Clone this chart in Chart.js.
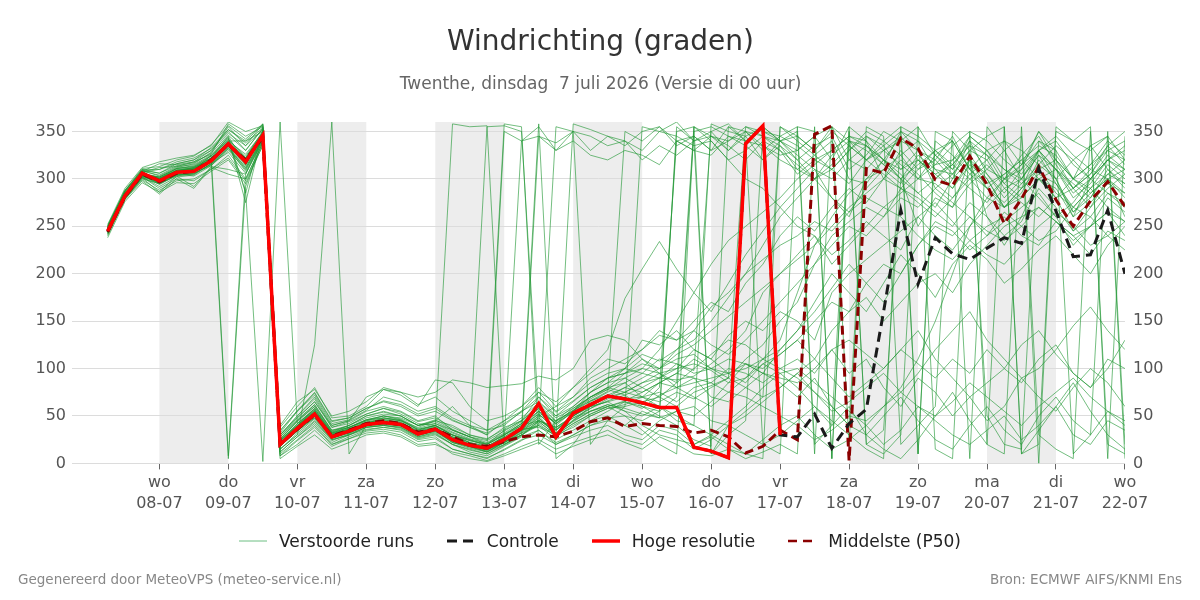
<!DOCTYPE html>
<html>
<head>
<meta charset="utf-8">
<script src="https://cdn.jsdelivr.net/npm/chart.js@4.4.1/dist/chart.umd.min.js"></script>
<style>
  body { margin: 0; background: #fff; font-family: 'DejaVu Sans', sans-serif; }
  #wrap { position: relative; width: 1200px; height: 600px; }
  #legend { position: absolute; top: 530px; left: 0; width: 1200px; display: flex; justify-content: center; gap: 33px; font-size: 17px; color: #222; line-height: 22px; }
  .item { display: flex; align-items: center; }
  .item svg { margin-right: 12px; }
  .foot { position: absolute; top: 571px; font-size: 13.5px; color: #888; }
</style>
</head>
<body>
<div id="wrap">
  <canvas id="myChart" width="1200" height="600"></canvas>
  <div id="legend"></div>
  <div class="foot" style="left:18px">Gegenereerd door MeteoVPS (meteo-service.nl)</div>
  <div class="foot" style="right:18px">Bron: ECMWF AIFS/KNMI Ens</div>
</div>
<script>
// hours after 7 juli 00:00, every 6 hours
var hours = [6,12,18,24,30,36,42,48,54,60,66,72,78,84,90,96,102,108,114,120,
  126,132,138,144,150,156,162,168,174,180,186,192,198,204,210,216,222,228,234,240,
  246,252,258,264,270,276,282,288,294,300,306,312,318,324,330,336,342,348,354,360];

var tickHours = [24,48,72,96,120,144,168,192,216,240,264,288,312,336,360];
var dayNames = ["wo","do","vr","za","zo","ma","di","wo","do","vr","za","zo","ma","di","wo"];
var dayDates = ["08-07","09-07","10-07","11-07","12-07","13-07","14-07","15-07","16-07","17-07","18-07","19-07","20-07","21-07","22-07"];
var shadeDays = [24,72,120,168,216,264,312];
var yTicks = [0,50,100,150,200,250,300,350];

// hoge resolutie (tot 17-07)
var hres = [245,282,306,298,307,308,319,337,318,346, 20,37,52,28,34,41,43,41,31,36,
  25,19,16,25,37,63,28,53,62,71, 68,64,59,59,17,13,6,337,356,30];

var control = [245,282,306,298,307,308,319,337,318,346, 20,37,52,28,34,41,43,41,31,36,
  25,19,16,25,37,63,28,53,62,71, 68,64,59,59,17,13,6,337,356,30,
  28,52,16,42,57,160,267,189,238,221, 215,227,238,232,311,266,218,220,267,200];

var p50 = [244,281,305,297,306,308,320,336,320,344, 20,36,51,29,35,42,45,42,33,36,
  28,20,18,23,28,30,28,34,44,48, 39,42,40,39,32,35,28,11,18,35,
  25,347,356,3,311,306,343,332,299,293, 324,294,253,279,313,278,250,277,297,271];

// verstoorde runs
var runs = [
  [248,285,304,302,310,312,322,340,340,350, 25,45,60,35,38,45,50,46,35,40,30,22,15,30,40,45,38,48,55,60, 65,58,72,80,85,90,95,100,110,130, 180,230,260,285,300,310,295,320,305,290,315,300,270,285,320,300,265,280,310,290],
  [242,280,300,295,303,306,315,333,310,342, 15,30,45,25,30,38,40,38,28,32,20,15,10,20,30,40,25,35,45,50, 40,55,48,355,340,345,330,350,335,320, 310,300,325,340,330,315,350,340,310,305,330,320,290,300,325,295,270,290,315,300],
  [250,288,308,316,315,318,326,358,345,355, 30,50,70,40,45,55,60,55,45,50,35,28,20,35,45,60,40,55,70,80, 75,85,90,105,95,100,110,105,95,90, 85,100,120,95,110,80,60,90,75,50,70,45,60,90,70,55,80,100,85,60],
  [240,278,298,284,300,290,312,305,300,338, 10,25,40,20,28,35,38,35,25,28,15,10,5,15,25,30,20,28,35,40, 30,25,40,35,20,28,15,10,25,40, 50,30,15,25,40,20,35,60,45,30,20,35,50,25,40,60,30,20,45,35],
  [246,283,305,300,309,311,318,5,292,340, 22,40,55,30,36,43,46,44,33,38,28,20,18,28,38,50,30,45,60,65, 55,50,60,45,40,358,350,345,355,340, 330,345,320,355,340,300,330,310,320,300,340,305,285,310,330,300,260,300,325,310],
  [244,281,303,297,306,309,325,8,305,344, 18,35,50,27,33,40,42,40,30,35,22,18,12,22,32,40,30,38,50,58, 62,70,65,75,68,80,90,110,125,150, 170,210,240,255,270,260,290,280,265,250,275,260,240,255,290,270,245,260,285,275],
  [247,284,306,301,308,310,321,339,287,2, 360,42,58,32,36,42,48,45,38,45,60,40,30,45,60,75,55,70,85,95, 100,115,108,120,130,150,175,200,230,260, 280,300,310,295,320,330,315,300,325,340,310,290,305,320,300,280,290,310,300,285],
  [245,282,307,299,306,307,318,336,315,345, 15,30,125,360,10,40,45,40,30,34,25,20,15,25,35,55,35,50,60,70, 80,75,85,95,90,85,100,95,85,100, 110,95,120,130,115,100,120,105,90,110,95,120,100,85,110,125,95,80,110,100],
  [249,286,309,303,312,316,328,355,335,358, 28,48,65,38,42,52,58,52,42,40,358,355,356,20,30,45,35,50,65,75, 85,95,90,100,120,110,95,85,105,115, 130,150,170,160,190,210,200,230,250,240,260,245,235,250,270,255,240,250,265,255],
  [243,279,302,296,304,305,316,334,312,343, 20,35,48,30,32,40,42,40,30,36,30,25,18,350,340,345,338,350,330,345, 340,330,350,345,335,340,320,330,345,335, 320,335,345,310,325,350,340,330,315,320,335,310,300,325,345,315,290,305,330,320],
  [251,287,310,306,316,320,330,352,340,357, 35,55,75,45,48,58,65,60,50,55,45,38,30,358,355,20,45,60,75,85, 90,100,95,85,355,10,40,55,70,80, 95,75,60,40,30,50,70,45,25,15,40,60,35,20,50,70,45,30,55,40],
  [245,283,303,298,307,310,320,337,318,347, 20,38,52,28,34,42,44,40,32,36,28,20,15,22,35,50,60,80,100,120, 174,205,234,205,180,160,190,220,245,270, 290,310,280,260,300,320,305,285,270,300,320,290,275,295,310,285,270,290,305,295],
  [246,282,305,300,308,309,319,338,322,348, 25,40,58,33,40,48,52,50,40,45,40,30,25,38,45,70,50,65,80,90, 100,95,110,105,98,350,358,340,20,30, 45,60,40,355,20,35,300,250,280,270,320,260,230,260,300,280,245,270,300,260],
  [244,280,304,297,305,307,318,336,316,345, 18,34,50,27,32,40,43,41,30,35,22,18,12,22,30,345,330,340,325,320, 330,325,315,340,330,345,335,320,340,330, 305,320,310,330,345,335,310,320,300,315,340,325,310,300,330,340,315,300,320,330],
  [247,285,305,301,309,312,320,340,326,349, 24,42,56,31,37,45,48,45,36,40,32,25,20,30,42,58,42,55,68,78, 72,60,50,40,25,18,355,350,345,340, 350,10,355,20,345,330,340,355,325,310,345,330,300,310,350,330,300,315,340,325],
  [245,281,303,296,306,308,317,335,314,344, 20,36,52,28,35,41,43,42,31,38,26,19,15,24,36,48,30,46,58,66, 72,80,90,88,92,105,120,140,180,200, 220,240,210,230,250,270,260,240,225,215,235,250,260,240,230,255,240,220,245,235],
  [248,284,306,300,311,313,322,342,322,351, 26,44,60,33,38,46,50,48,40,42,35,28,355,356,350,50,45,55,75,90, 95,105,100,110,115,100,95,105,100,115, 130,110,140,160,175,150,170,190,200,180,210,230,250,260,270,255,235,250,265,240],
  [243,279,301,295,304,306,314,332,308,341, 12,28,42,22,30,36,38,36,26,30,20,12,8,18,28,35,22,30,40,48, 50,45,55,350,355,345,340,355,350,345, 355,350,5,340,335,320,345,10,350,340,5,355,330,345,0,350,340,355,5,345],
  [246,283,304,299,308,311,320,338,320,346, 22,38,54,30,35,43,45,43,34,38,28,22,18,28,40,55,38,50,62,72, 68,70,75,65,80,85,75,70,60,50, 40,25,35,50,45,60,80,110,150,200,250,280,300,290,310,320,300,285,300,310],
  [245,282,306,299,307,309,319,337,319,346, 20,36,50,29,34,41,44,41,31,36,25,20,16,24,35,40,355,350,20,45, 60,355,350,360,340,10,30,45,350,340, 320,300,315,335,320,305,290,310,330,315,300,280,270,290,305,295,265,285,300,280],
  [244,281,304,298,307,308,318,336,318,345, 19,36,51,29,33,41,43,41,32,36,25,19,16,24,36,38,30,358,352,345, 335,350,355,340,345,330,355,340,335,325, 330,345,355,340,320,335,350,330,320,345,310,330,340,315,350,320,300,335,345,320],
  [249,286,307,312,313,315,325,344,285,352, 38,60,80,48,50,60,78,72,60,88,85,60,45,50,60,80,60,70,90,100, 110,120,135,130,140,125,115,130,150,170, 190,210,230,250,240,260,280,270,290,275,260,240,255,270,285,260,230,250,280,265],
  [242,279,301,286,303,292,313,310,305,340, 8,20,35,18,26,32,34,30,20,22,10,5,2,8,15,22,10,18,25,30, 22,15,28,20,10,8,15,5,12,20, 10,355,5,350,20,10,30,355,15,5,350,20,10,355,30,15,5,350,20,10],
  [248,284,305,302,311,314,324,343,275,350, 30,48,65,40,45,70,78,75,70,75,88,85,80,82,84,92,88,100,130,135, 130,110,95,100,105,98,85,90,110,120, 140,170,200,180,160,190,220,200,175,210,230,215,190,205,225,240,220,200,230,250],
  [246,284,306,300,309,311,321,339,322,348, 22,40,54,31,36,43,46,43,34,39,30,22,18,27,340,355,330,350,345,335, 340,320,335,325,340,350,330,345,320,335, 310,325,340,300,295,320,310,330,290,305,325,300,270,290,330,310,280,295,320,305],
  [245,283,305,299,308,310,320,338,320,347, 21,39,53,30,35,42,44,42,33,37,27,21,17,26,38,52,35,48,58,68, 75,70,85,80,90,70,65,80,95,85, 70,90,60,40,355,345,20,40,60,350,330,50,20,15,340,330,10,30,350,20],
  [247,283,306,300,309,310,319,338,321,347, 23,40,55,30,36,44,47,45,35,40,30,24,20,30,42,55,42,58,70,80, 95,110,100,120,140,165,180,200,215,230, 240,255,245,265,280,270,285,300,295,280,305,290,270,280,300,290,260,275,295,285],
  [244,281,303,297,306,308,318,336,317,345, 19,35,50,28,34,40,43,40,31,35,24,18,14,23,34,48,32,45,55,62, 55,40,30,25,20,30,45,60,80,95, 100,85,70,55,40,60,75,95,120,140,160,130,110,90,100,120,145,165,140,120],
  [246,282,305,298,307,309,319,337,319,346, 20,37,52,29,34,41,43,41,31,36,25,19,16,25,35,45,38,50,60,65, 70,62,80,340,330,325,345,335,320,340, 325,310,300,320,335,315,300,325,310,290,320,305,280,300,325,310,285,300,320,310],
  [245,282,304,298,307,309,318,337,318,346, 20,37,52,29,34,41,43,41,31,36,25,19,16,25,37,358,5,20,45,55, 65,60,55,70,350,355,345,340,355,340, 345,330,355,320,310,330,345,320,305,315,335,325,295,315,340,320,290,305,335,315],
  [252,290,312,318,322,325,335,360,350,356, 40,65,78,50,55,65,80,75,62,70,55,45,35,40,55,75,65,80,95,110, 105,120,140,130,150,170,160,190,210,240, 260,245,270,290,275,300,320,305,285,270,295,310,330,300,280,260,275,300,285,270],
  [238,276,296,286,296,295,308,320,295,336, 5,18,30,15,22,30,32,28,18,20,12,8,3,10,18,25,15,22,28,35, 25,20,35,30,15,25,40,30,20,10, 355,20,40,60,30,15,5,25,50,75,45,20,355,10,35,60,85,55,30,15],
  [250,287,310,310,318,322,332,350,330,353, 32,55,72,42,46,56,70,65,55,60,48,40,35,45,55,65,50,60,75,85, 100,130,125,140,120,110,135,150,140,160, 150,130,180,200,215,230,245,260,240,225,250,270,290,275,260,280,300,290,270,255],
  [244,280,302,292,302,304,316,328,306,340, 15,32,47,25,30,38,40,38,28,33,22,16,12,20,30,42,28,40,50,58, 60,65,70,60,75,82,90,80,70,355, 340,325,310,330,350,340,325,300,315,335,350,340,320,305,330,345,325,310,335,350],
  [247,284,308,304,313,318,330,348,335,352, 26,45,62,34,40,50,55,50,40,46,36,28,22,32,44,60,44,56,66,72, 80,90,100,115,125,140,155,170,185,200, 215,230,250,270,285,300,290,275,260,280,300,315,295,280,300,310,290,270,290,305],
  [243,280,302,290,300,298,310,325,300,338, 12,28,44,24,31,38,40,37,27,31,20,14,10,19,29,44,30,42,52,60, 50,35,20,10,355,340,320,300,290,270, 250,240,220,235,255,240,225,260,275,255,235,220,210,230,250,265,250,230,240,225],
  [249,287,309,306,314,317,327,346,330,354, 30,50,68,38,44,52,58,54,44,48,38,30,26,36,48,64,48,58,70,80, 85,70,60,50,40,30,20,10,5,355, 345,330,350,335,320,340,355,10,340,325,305,320,340,330,315,300,320,335,310,295],
  [245,283,305,295,305,303,314,330,310,342, 18,36,50,27,33,40,42,40,30,34,24,18,14,22,33,46,32,44,55,62, 58,52,48,55,60,45,40,50,65,80, 95,110,90,70,85,100,120,140,110,90,70,85,100,125,140,115,95,80,100,130],
  [246,283,306,302,311,313,324,341,324,349, 24,42,57,32,38,46,50,47,37,42,33,26,21,31,42,58,42,54,66,76, 350,340,355,335,345,330,340,350,330,345, 335,320,330,345,335,320,300,315,330,340,310,295,305,320,335,325,300,315,330,340],
  [241,279,299,288,298,300,310,322,298,335, 8,24,38,20,26,34,36,33,23,26,15,10,6,14,24,35,20,30,40,45, 40,30,45,55,50,65,85,105,95,120, 140,160,185,210,190,170,200,230,255,245,225,240,265,250,235,245,270,260,240,255],
  [248,285,307,299,308,312,322,345,315,350, 24,40,56,32,38,46,48,46,36,40,30,24,20,30,40,52,36,50,62,70, 75,85,95,80,70,60,75,90,105,95, 80,60,45,30,15,5,355,345,330,310,330,345,355,10,20,355,340,330,345,5],
  [246,284,307,310,316,320,333,352,338,354, 28,46,62,35,40,50,54,50,40,44,35,28,24,34,45,62,45,56,70,78, 90,80,70,85,100,115,130,125,110,100, 90,75,55,65,80,95,75,60,50,65,85,70,55,40,60,75,90,70,55,45],
  [245,281,304,294,304,305,316,332,312,343, 18,34,48,26,32,39,41,39,29,34,23,17,13,22,32,44,30,42,52,60, 66,75,85,95,110,100,90,355,345,330, 315,300,280,265,290,310,325,340,325,305,290,275,300,315,330,310,295,280,305,320],
  [250,288,311,313,320,324,336,356,342,358, 34,56,74,44,48,58,66,62,52,58,46,38,32,42,54,70,54,66,80,90, 95,100,120,150,180,210,235,250,265,280, 300,315,330,345,340,320,300,285,300,320,345,330,310,295,315,335,320,300,320,335]
];

var runColor = "rgba(30,150,50,0.62)";

toPoints = (vals) => vals.map((v, i) => ({ x: hours[i], y: v }));

var datasets = [];
runs.forEach((r) => {
  datasets.push({
    label: "Verstoorde runs", data: toPoints(r), borderColor: runColor,
    borderWidth: 1, pointRadius: 0, order: 5,
  });
});
datasets.push({ label: "Controle", data: toPoints(control), borderColor: "#1a1a1a", borderWidth: 3, borderDash: [10, 6], pointRadius: 0, order: 1 });
datasets.push({ label: "Hoge resolutie", data: toPoints(hres), borderColor: "#ff0000", borderWidth: 3.5, pointRadius: 0, order: 0 });
datasets.push({ label: "Middelste (P50)", data: toPoints(p50), borderColor: "#8b0000", borderWidth: 3, borderDash: [9, 5], pointRadius: 0, order: 2 });

// grey bands for every other day
var shadePlugin = {
  id: "shade",
  beforeDraw(chart) {
    const { ctx, chartArea, scales } = chart;
    ctx.save();
    ctx.fillStyle = "#ededed";
    shadeDays.forEach((d) => {
      const x0 = scales.x.getPixelForValue(d);
      const x1 = scales.x.getPixelForValue(d + 24);
      ctx.fillRect(x0, chartArea.top, x1 - x0, chartArea.bottom - chartArea.top);
    });
    ctx.restore();
  },
};

Chart.defaults.font.family = "'DejaVu Sans', sans-serif";

var yAxis = (pos, pad, onArea) => ({
  position: pos, min: 0, max: 360,
  afterBuildTicks: (ax) => { ax.ticks = yTicks.map((v) => ({ value: v })); },
  ticks: { color: "#555", font: { size: 16 }, padding: pad },
  grid: { color: "#dcdcdc", drawTicks: false, drawOnChartArea: onArea },
  border: { display: false },
});

const ctx = document.getElementById("myChart").getContext("2d");
const chart = new Chart(ctx, {
  type: "line",
  data: { datasets: datasets },
  plugins: [shadePlugin],
  options: {
    responsive: false,
    animation: false,
    layout: { padding: { left: 29.5, right: 28.5, top: 0, bottom: 83 } },
    plugins: {
      legend: { display: false },
      tooltip: { enabled: false },
      title: { display: true, text: "Windrichting (graden)", color: "#333", font: { size: 28, weight: "normal" }, padding: { top: 26, bottom: 0 } },
      subtitle: { display: true, text: "Twenthe, dinsdag  7 juli 2026 (Versie di 00 uur)", color: "#666", font: { size: 17 }, padding: { top: 15, bottom: 27 } },
    },
    scales: {
      x: {
        type: "linear", min: -6.4, max: 360,
        afterBuildTicks: (ax) => { ax.ticks = tickHours.map((v) => ({ value: v })); },
        ticks: {
          callback: (v) => { const i = tickHours.indexOf(v); return [dayNames[i], dayDates[i]]; },
          color: "#555", font: { size: 16, lineHeight: 1.3 }, padding: 3, maxRotation: 0, autoSkip: false,
        },
        grid: { drawOnChartArea: false, drawTicks: true, tickLength: 6, color: "#666" },
        border: { display: false },
      },
      y: yAxis("left", 6, true),
      y2: yAxis("right", 8, false),
    },
  },
});

// legend
var legendItems = [
  { text: "Verstoorde runs", color: "rgba(60,170,90,0.75)", width: 1, dash: "" },
  { text: "Controle", color: "#1a1a1a", width: 3, dash: "10,6" },
  { text: "Hoge resolutie", color: "#ff0000", width: 3.5, dash: "" },
  { text: "Middelste (P50)", color: "#8b0000", width: 2.5, dash: "9,6" },
];
var legendEl = document.getElementById("legend");
legendItems.forEach((it) => {
  const div = document.createElement("div");
  div.className = "item";
  div.innerHTML =
    '<svg width="28" height="10"><line x1="0" y1="5" x2="28" y2="5" stroke="' + it.color +
    '" stroke-width="' + it.width + '"' + (it.dash ? ' stroke-dasharray="' + it.dash + '"' : "") +
    "/></svg><span>" + it.text + "</span>";
  legendEl.appendChild(div);
});
</script>
</body>
</html>
